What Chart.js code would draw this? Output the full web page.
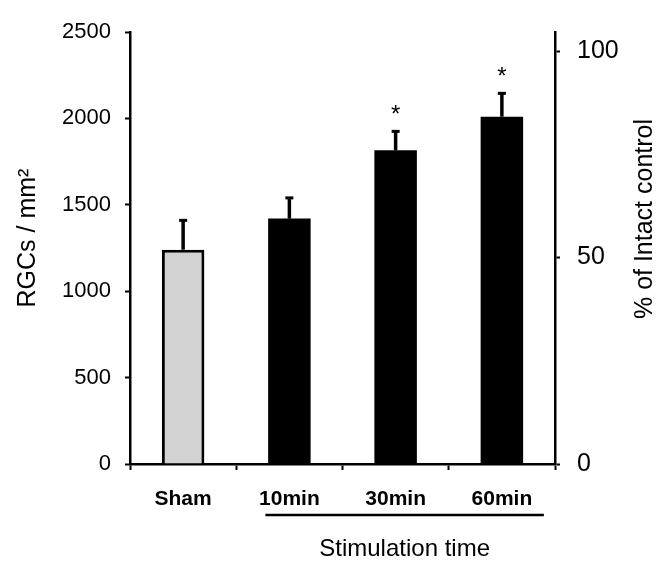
<!DOCTYPE html>
<html>
<head>
<meta charset="utf-8">
<script src="https://cdn.jsdelivr.net/npm/chart.js@4.4.0/dist/chart.umd.min.js"></script>
<style>
  body { margin: 0; background: #fff; }
  #wrap { width: 672px; height: 561px; }
</style>
</head>
<body>
<div id="wrap"><canvas id="chart" width="672" height="561"></canvas></div>
<script>
// data
var categories = ["Sham", "10min", "30min", "60min"];
var rgcMean = [1240, 1420, 1815, 2010];
var rgcErr = [170, 120, 110, 135];
var signif = [false, false, true, true];
var leftTicks = [0, 500, 1000, 1500, 2000, 2500];
var rightTicks = [0, 50, 100];
var intactControl = 2390; // RGCs/mm2 = 100 %

var FONT = "'Liberation Sans', Arial, sans-serif";
var leftMax = 2500;
var rightMax = leftMax / intactControl * 100;

// error bars + asterisks
var errorBars = {
    id: 'errorBars',
    afterDatasetsDraw: function (chart) {
        var ctx = chart.ctx;
        var y = chart.scales.y;
        var meta = chart.getDatasetMeta(0);
        ctx.save();
        ctx.strokeStyle = '#000';
        meta.data.forEach(function (bar, i) {
            var top = y.getPixelForValue(rgcMean[i] + rgcErr[i]);
            ctx.lineWidth = 3.5;
            ctx.beginPath();
            ctx.moveTo(bar.x, bar.y);
            ctx.lineTo(bar.x, top);
            ctx.stroke();
            ctx.lineWidth = 3;
            ctx.beginPath();
            ctx.moveTo(bar.x - 4, top);
            ctx.lineTo(bar.x + 4, top);
            ctx.stroke();
            if (signif[i]) {
                ctx.fillStyle = '#000';
                ctx.font = '24px ' + FONT;
                ctx.textAlign = 'center';
                ctx.textBaseline = 'middle';
                ctx.fillText('*', bar.x, top - 16);
            }
        });
        ctx.restore();
    }
};

// axis titles, underline
var titles = {
    id: 'titles',
    afterDraw: function (chart) {
        var ctx = chart.ctx;
        var x = chart.scales.x;
        ctx.save();
        ctx.fillStyle = '#000';
        ctx.textAlign = 'center';
        ctx.textBaseline = 'middle';
        ctx.font = '25px ' + FONT;

        ctx.save();
        ctx.translate(28, 238);
        ctx.rotate(-Math.PI / 2);
        ctx.fillText('RGCs / mm\u00B2', 0, 0);
        ctx.restore();

        ctx.save();
        ctx.translate(645, 219);
        ctx.rotate(-Math.PI / 2);
        ctx.fillText('% of Intact control', 0, 0);
        ctx.restore();

        var x0 = x.getPixelForValue(1) - 24;
        var x1 = x.getPixelForValue(3) + 42;
        ctx.strokeStyle = '#000';
        ctx.lineWidth = 2.5;
        ctx.beginPath();
        ctx.moveTo(x0, 515);
        ctx.lineTo(x1, 515);
        ctx.stroke();

        ctx.font = '24px ' + FONT;
        ctx.fillText('Stimulation time', (x0 + x1) / 2, 549);
        ctx.restore();
    }
};

var ctx = document.getElementById('chart').getContext('2d');

new Chart(ctx, {
    type: 'bar',
    data: {
        labels: categories,
        datasets: [{
            label: 'RGCs',
            data: rgcMean,
            backgroundColor: ['#d2d2d2', '#000', '#000', '#000'],
            borderColor: '#000',
            borderWidth: [3, 0, 0, 0],
            borderSkipped: 'bottom',
            barPercentage: 0.4,
            categoryPercentage: 1.0
        }]
    },
    options: {
        responsive: false,
        animation: false,
        layout: { padding: { top: 22, left: 0, right: 0, bottom: 0 } },
        plugins: {
            legend: { display: false },
            tooltip: { enabled: false }
        },
        scales: {
            x: {
                offset: true,
                grid: {
                    offset: true,
                    drawOnChartArea: false,
                    drawTicks: true,
                    tickLength: 6,
                    tickWidth: 2,
                    tickColor: '#000'
                },
                border: { color: '#000', width: 2.5 },
                ticks: {
                    color: '#000',
                    padding: 17,
                    font: { family: FONT, size: 21, weight: 'bold' }
                },
                afterFit: function (s) { s.height = 97; }
            },
            y: {
                position: 'left',
                min: 0,
                max: leftMax,
                afterBuildTicks: function (s) {
                    s.ticks = leftTicks.map(function (v) { return { value: v }; });
                },
                grid: {
                    drawOnChartArea: false,
                    tickLength: 5,
                    tickWidth: 2,
                    tickColor: '#000'
                },
                border: { color: '#000', width: 2.5 },
                ticks: {
                    color: '#000',
                    padding: 14,
                    font: { family: FONT, size: 22 },
                    callback: function (v) { return String(v); }
                },
                afterFit: function (s) { s.width = 130; }
            },
            y2: {
                position: 'right',
                min: 0,
                max: rightMax,
                afterBuildTicks: function (s) {
                    s.ticks = rightTicks.map(function (v) { return { value: v }; });
                },
                grid: {
                    drawOnChartArea: false,
                    tickLength: 5,
                    tickWidth: 2,
                    tickColor: '#000'
                },
                border: { color: '#000', width: 2.5 },
                ticks: {
                    color: '#000',
                    padding: 17,
                    font: { family: FONT, size: 25 },
                    callback: function (v) { return String(v); }
                },
                afterFit: function (s) { s.width = 117; }
            }
        }
    },
    plugins: [errorBars, titles]
});
</script>
</body>
</html>
